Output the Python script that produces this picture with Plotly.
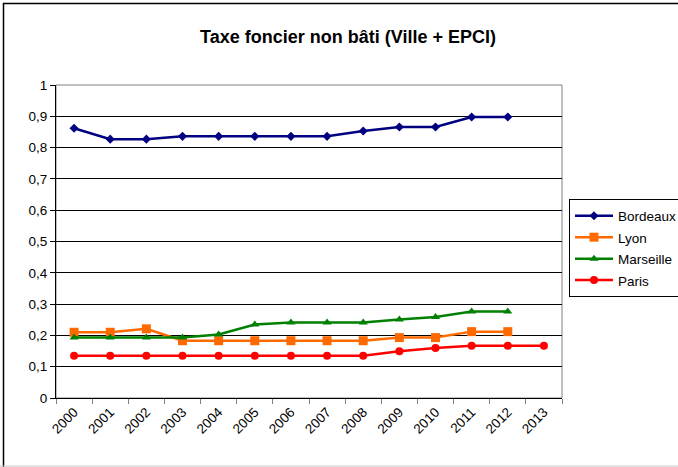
import plotly.graph_objects as go

years = [str(y) for y in range(2000, 2014)]
bordeaux = [0.862, 0.827, 0.827, 0.836, 0.836, 0.836, 0.836, 0.836, 0.853, 0.866, 0.866, 0.898, 0.898]
lyon = [0.210, 0.210, 0.221, 0.183, 0.183, 0.183, 0.183, 0.183, 0.183, 0.193, 0.193, 0.212, 0.212]
marseille = [0.193, 0.193, 0.193, 0.193, 0.203, 0.235, 0.241, 0.241, 0.241, 0.251, 0.259, 0.276, 0.276]
paris = [0.135, 0.135, 0.135, 0.135, 0.135, 0.135, 0.135, 0.135, 0.135, 0.149, 0.160, 0.167, 0.167, 0.167]
y_ticks = [0, 0.1, 0.2, 0.3, 0.4, 0.5, 0.6, 0.7, 0.8, 0.9, 1]

FONT = "Liberation Sans, Arial, sans-serif"

fig = go.Figure()
series = [
    ("Bordeaux", bordeaux, "#000080", "diamond", 7),
    ("Lyon", lyon, "#FF6A00", "square", 9),
    ("Marseille", marseille, "#008000", "triangle-up", 8),
    ("Paris", paris, "#FF0000", "circle", 8),
]
for name, vals, color, sym, size in series:
    fig.add_trace(go.Scatter(
        x=years[:len(vals)], y=vals,
        name="<span style='font-size:13.5px'>" + name + "</span>",
        mode="lines+markers",
        line=dict(color=color, width=2.5),
        marker=dict(symbol=sym, size=size, color=color, line=dict(width=0)),
    ))

L, R, T, B = 56, 562, 85, 398
W, H = 678, 467
pw, ph = R - L, B - T

def px(x):
    return (x - L) / pw

def py(y):
    return (B - y) / ph

fig.update_layout(
    width=W, height=H,
    margin=dict(l=L, r=W - R, t=T, b=H - B, pad=0, autoexpand=False),
    paper_bgcolor="white", plot_bgcolor="white",
    separators=", ",
    font=dict(family=FONT, size=13.5, color="black"),
    title=dict(text="<b>Taxe foncier non bâti (Ville + EPCI)</b>",
               x=348 / W, xanchor="center", y=1 - 37 / H, yanchor="middle",
               font=dict(family=FONT, size=18, color="black")),
    showlegend=True,
    legend=dict(xref="container", yref="container",
                x=569 / W, xanchor="left", y=1 - 199 / H, yanchor="top",
                bordercolor="black", borderwidth=1, bgcolor="white",
                font=dict(family=FONT, size=14.2, color="black"),
                itemwidth=38, tracegroupgap=0),
    xaxis=dict(type="category", categoryorder="array", categoryarray=years,
               range=[-0.5, 13.5], tickson="boundaries",
               ticks="outside", ticklen=5, tickcolor="#808080", tickwidth=1,
               tickangle=-45, showgrid=False, zeroline=False,
               showline=True, linecolor="black", linewidth=1, mirror=False,
               tickfont=dict(family=FONT, size=13.5, color="black")),
    yaxis=dict(range=[0, 1], tickvals=y_ticks, tickformat="",
               ticks="outside", ticklen=5, tickcolor="black",
               showgrid=True, gridcolor="black", gridwidth=1,
               zeroline=False, showline=True, linecolor="black", linewidth=1,
               tickfont=dict(family=FONT, size=13.5, color="black")),
)

# plot-area border (gray) and outer chart border
fig.add_shape(type="rect", xref="paper", yref="paper", x0=0, x1=1, y0=0, y1=1,
              line=dict(color="#808080", width=1), layer="below")
fig.add_shape(type="rect", xref="paper", yref="paper",
              x0=px(3.5), x1=px(690), y0=py(490), y1=py(3.5),
              line=dict(color="black", width=1.5))
fig.add_shape(type="line", xref="paper", yref="paper",
              x0=px(0), x1=px(678), y0=py(466), y1=py(466),
              line=dict(color="#c8c8c8", width=1))

fig.write_html("out.html", config={"displayModeBar": False},
               post_script="document.body.style.margin='0';document.body.style.overflow='hidden';")
